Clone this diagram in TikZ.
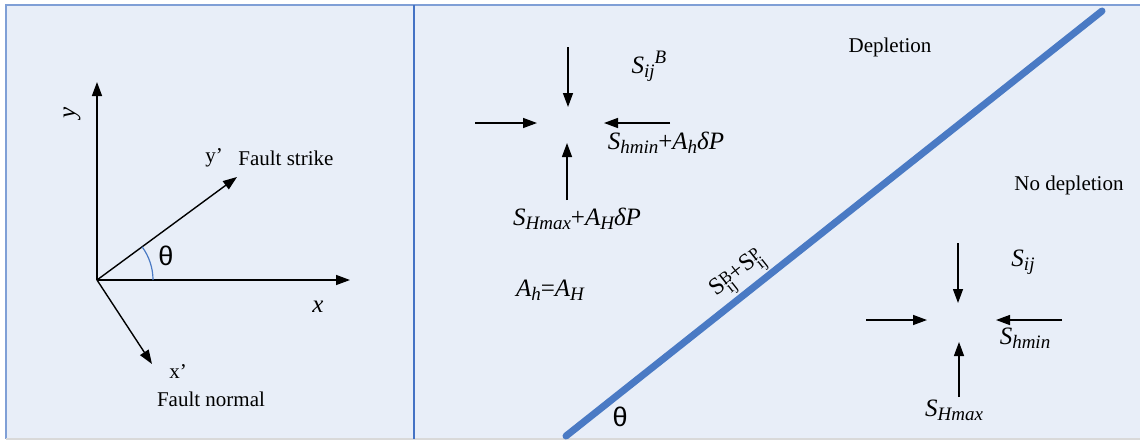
\documentclass[tikz,border=0pt]{standalone}
\usepackage{fontspec}
\setmainfont{Liberation Serif}
\newfontfamily\sansf{Liberation Sans}
\usetikzlibrary{arrows.meta}
\definecolor{bgfill}{HTML}{E8EEF8}
\definecolor{framec}{HTML}{7F9FD6}
\definecolor{faultc}{HTML}{4A7AC4}
\definecolor{divc}{HTML}{4472C4}
\newcommand\mysub[1]{\raisebox{-0.35ex}{\fontsize{9.5}{10}\selectfont\itshape #1}}
\newcommand\mysup[1]{\raisebox{0.85ex}{\fontsize{9.5}{10}\selectfont\itshape #1}}
\newcommand\fstack[2]{\raisebox{-0.2ex}{\fontsize{8.5}{8}\selectfont\begin{tabular}{@{}l@{}}#1\\[-2.5pt]#2\end{tabular}}}
\begin{document}
\begin{tikzpicture}[x=0.5pt,y=-0.5pt,
  arr/.style={line width=0.7pt,-{Triangle[length=7pt,width=5pt]}},
  lbl/.style={inner sep=0pt,font=\fontsize{10.5}{12}\selectfont},
  mth/.style={inner sep=0pt,font=\fontsize{12.5}{14}\selectfont\itshape},
  thl/.style={inner sep=0pt,font=\sansf\fontsize{13.5}{14}\selectfont}]
\useasboundingbox (0,0) rectangle (1140,440);
\fill[bgfill] (6,5) rectangle (1140,439);
\draw[framec,line width=1.2pt] (1140,5) -- (6,5) -- (6,439);
\draw[black!15,line width=0.8pt] (6,439) -- (1140,439);
\draw[divc,line width=1pt] (414,5) -- (414,439);
% left panel
\coordinate (O) at (97,280);
\coordinate (ytip) at (97,82);
\coordinate (xtip) at (350,280);
\coordinate (yptip) at (237,177);
\coordinate (xptip) at (152,364);
\draw[arr] (O) -- (ytip);
\draw[arr] (O) -- (xtip);
\draw[arr] (O) -- (yptip);
\draw[arr] (O) -- (xptip);
\draw[faultc,line width=0.6pt] (153,280) arc[start angle=0,end angle=-36.3,radius=56];
\node[thl] (th1) at (166,256) {θ};
\node[mth,rotate=90] (ylab) at (72,113) {y};
\node[mth] (xlab) at (318,307) {x};
\node[lbl] (yp) at (214,158) {y’};
\node[lbl,anchor=west] (fs) at (238,158) {Fault strike};
\node[lbl] (xp) at (178,372) {x’};
\node[lbl] (fn) at (211,399) {Fault normal};
% fault
\coordinate (fa) at (566,436);
\coordinate (fb) at (1102,11);
\draw[faultc,line width=3.5pt,line cap=round] (fa) -- (fb);
\node[inner sep=0pt,rotate=38.4,font=\fontsize{12}{13}\selectfont] (flab) at (739,276)
  {S\fstack{B}{ij}+S\fstack{P}{ij}};
\node[thl] (th2) at (620,417) {θ};
% depletion cross
\coordinate (a1s) at (568,47);  \coordinate (a1e) at (568,107);
\coordinate (a2s) at (475,123); \coordinate (a2e) at (537,123);
\coordinate (a3s) at (670,123); \coordinate (a3e) at (604,123);
\coordinate (a4s) at (567,200); \coordinate (a4e) at (567,143);
\draw[arr] (a1s) -- (a1e);
\draw[arr] (a2s) -- (a2e);
\draw[arr] (a3s) -- (a3e);
\draw[arr] (a4s) -- (a4e);
\node[mth] (sb) at (649,66) {S\mysub{ij}\mysup{B}};
\node[mth] (shmin1) at (666,143) {S\mysub{hmin}{\upshape+}A\mysub{h}δP};
\node[mth] (shmax1) at (577,219) {S\mysub{Hmax}{\upshape+}A\mysub{H}δP};
\node[mth] (ah) at (550,290) {A\mysub{h}{\upshape=}A\mysub{H}};
\node[lbl] (dep) at (890,47) {Depletion};
\node[lbl] (nodep) at (1069,185) {No depletion};
% no depletion cross
\coordinate (b1s) at (958,243); \coordinate (b1e) at (958,303);
\coordinate (b2s) at (866,320); \coordinate (b2e) at (927,320);
\coordinate (b3s) at (1062,320); \coordinate (b3e) at (996,320);
\coordinate (b4s) at (959,397); \coordinate (b4e) at (959,342);
\draw[arr] (b1s) -- (b1e);
\draw[arr] (b2s) -- (b2e);
\draw[arr] (b3s) -- (b3e);
\draw[arr] (b4s) -- (b4e);
\node[mth] (sij) at (1023,262) {S\mysub{ij}};
\node[mth] (shmin2) at (1025,338) {S\mysub{hmin}};
\node[mth] (shmax2) at (954,410) {S\mysub{Hmax}};
\end{tikzpicture}
\end{document}
